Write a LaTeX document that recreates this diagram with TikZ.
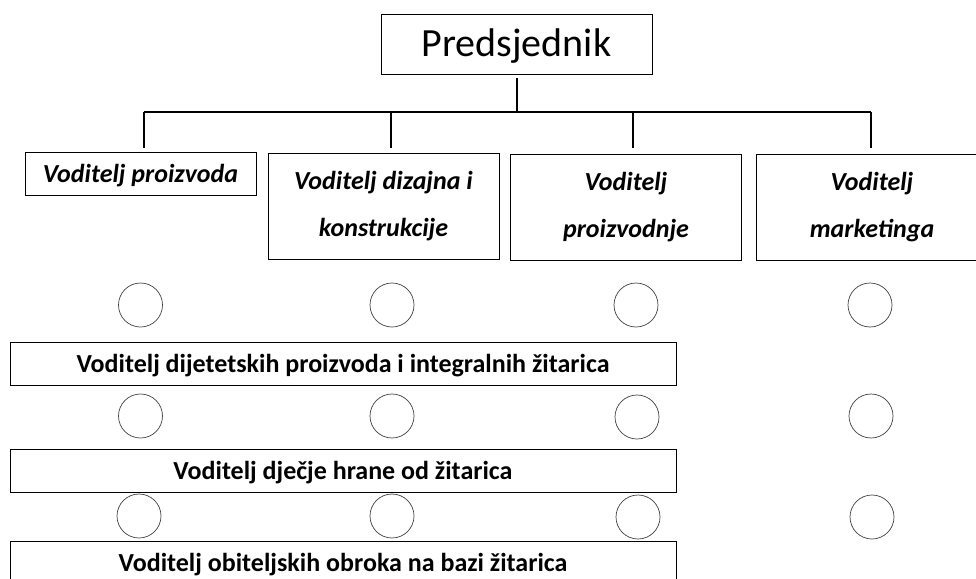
\documentclass[tikz,border=0pt]{standalone}
\usepackage{fontspec}
\setmainfont{Carlito}
\begin{document}
\begin{tikzpicture}[x=1pt,y=-1pt,
    voditelj/.style ={rectangle, draw, line width=0.8pt, minimum width=231pt, inner sep=0pt, align=center,
      font=\fontsize{26}{47}\selectfont\bfseries\itshape},
    skupina/.style ={rectangle, draw, line width=0.8pt, minimum width=666pt, minimum height=43pt, inner sep=0pt,
      text depth=1pt, font=\fontsize{26}{30}\selectfont\bfseries},
    krug/.style ={circle, draw, black!75, line width=0.7pt, minimum size=44pt, inner sep=0pt}]
   \clip (0,0) rectangle (976,578);
   \node[draw, line width=0.8pt, minimum width=271pt, minimum height=60pt, inner sep=0pt, text depth=2pt,
     font=\fontsize{40}{46}\selectfont] (P) at (516.5,44) {Predsjednik};

   \node[voditelj, minimum height=43pt, text depth=1pt] (A) at (140.5,173.5) {Voditelj proizvoda};
   \node[voditelj, minimum height=106pt] (B) at (383.5,206) {Voditelj dizajna i\\konstrukcije};
   \node[voditelj, minimum height=106pt] (C) at (626,207) {Voditelj\\proizvodnje};
   \node[voditelj, minimum height=106pt] (D) at (872,207) {Voditelj\\marketinga};

   \coordinate (P0) at (516.5,78);
   \coordinate (S) at (516.5,112);
   \coordinate (SA) at (144,112);
   \coordinate (SB) at (391,112);
   \coordinate (SC) at (633,112);
   \coordinate (SD) at (871,112);
   \coordinate (A0) at (144,148);
   \coordinate (B0) at (391,148);
   \coordinate (C0) at (633,148);
   \coordinate (D0) at (871,148);

   \draw[line width=2pt] (P0) to (S);
   \draw[line width=2.5pt] (SA) to (SD);
   \draw[line width=2pt] (SA) to (A0);
   \draw[line width=2pt] (SB) to (B0);
   \draw[line width=2pt] (SC) to (C0);
   \draw[line width=2pt] (SD) to (D0);

   \node[krug] (k11) at (140.5,305) {};
   \node[krug] (k12) at (392,305) {};
   \node[krug] (k13) at (636,305) {};
   \node[krug] (k14) at (870,305) {};

   \node[skupina] (G1) at (343,364) {Voditelj dijetetskih proizvoda i integralnih žitarica};

   \node[krug] (k21) at (140.5,416) {};
   \node[krug] (k22) at (392,416) {};
   \node[krug] (k23) at (637,417) {};
   \node[krug] (k24) at (871,416) {};

   \node[skupina] (G2) at (343,470.5) {Voditelj dječje hrane od žitarica};

   \node[krug] (k31) at (139,516) {};
   \node[krug] (k32) at (392,516) {};
   \node[krug] (k33) at (638,517) {};
   \node[krug] (k34) at (872,517) {};

   \node[skupina] (G3) at (343,562.5) {Voditelj obiteljskih obroka na bazi žitarica};
\end{tikzpicture}
\end{document}
